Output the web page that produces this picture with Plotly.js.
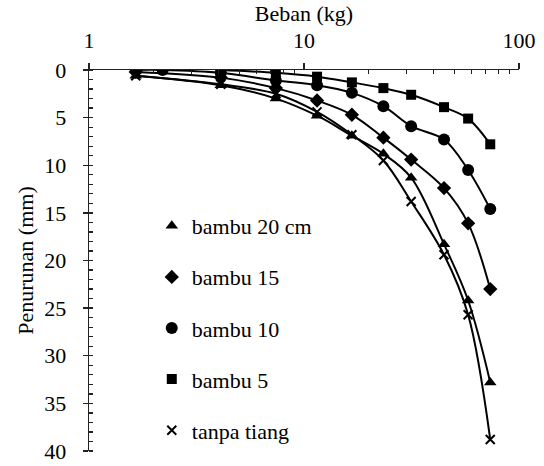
<!DOCTYPE html>
<html>
<head>
<meta charset="utf-8">
<script src="https://cdn.plot.ly/plotly-3.0.1.min.js"></script>
<style>html,body{margin:0;padding:0;background:#fff;}#chart{width:544px;height:466px;}</style>
</head>
<body>
<div id="chart"></div>
<script>
// Load (kg) values
var loadAll = [1.65, 4.1, 7.4, 11.5, 16.7, 23.4, 31.5, 44.8, 58, 73.5];
var loadCircle = [1.65, 2.2, 4.1, 7.4, 11.5, 16.7, 23.4, 31.5, 44.8, 58, 73.5];
var loadSquare = [4.1, 7.4, 11.5, 16.7, 23.4, 31.5, 44.8, 58, 73.5];

// Settlement (mm) values
var bambu20 = [0.6, 1.6, 3.0, 4.8, 6.9, 8.8, 11.3, 18.3, 24.2, 32.8];
var bambu15 = [0.2, 0.8, 1.9, 3.2, 4.7, 7.1, 9.4, 12.4, 16.1, 23.0];
var bambu10 = [0.0, 0.0, 0.3, 1.1, 1.6, 2.4, 3.8, 5.9, 7.3, 10.5, 14.6];
var bambu5 = [0.0, 0.3, 0.7, 1.3, 1.9, 2.6, 3.9, 5.1, 7.8];
var tanpaTiang = [0.6, 1.5, 2.5, 4.4, 6.8, 9.5, 13.8, 19.4, 25.7, 38.8];

var seriesNames = ['bambu 20 cm', 'bambu 15', 'bambu 10', 'bambu 5', 'tanpa tiang'];
var xTickVals = [1, 10, 100];
var xTickText = ['1', '10', '100'];
var xMinorVals = [2,3,4,5,6,7,8,9,20,30,40,50,60,70,80,90];
var yTickVals = [0, 5, 10, 15, 20, 25, 30, 35, 40];

var series = [
  {name: seriesNames[0], x: loadAll, y: bambu20, symbol: 'triangle-up', size: 11},
  {name: seriesNames[1], x: loadAll, y: bambu15, symbol: 'diamond', size: 11},
  {name: seriesNames[2], x: loadCircle, y: bambu10, symbol: 'circle', size: 12},
  {name: seriesNames[3], x: loadSquare, y: bambu5, symbol: 'square', size: 10},
  {name: seriesNames[4], x: loadAll, y: tanpaTiang, symbol: 'x-thin-open', size: 9}
];

function mkFont(sz){ return {family: 'Liberation Serif, Times New Roman, serif', size: sz, color: '#000'}; }

var traces = [];
series.forEach(function(s, i){
  traces.push({
    x: s.x, y: s.y, mode: 'lines', type: 'scatter',
    line: {color: '#000', width: 2, shape: 'spline', smoothing: 1.0},
    showlegend: false, hoverinfo: 'skip'
  });
});
series.forEach(function(s, i){
  traces.push({
    x: s.x, y: s.y, mode: 'markers', type: 'scatter', name: s.name,
    legendgroup: 'g' + i,
    marker: {symbol: s.symbol, size: s.size, color: '#000',
             line: {color: '#000', width: s.symbol === 'x-thin-open' ? 2 : 0}}
  });
});
// invisible traces for the overlay tick axes
traces.push({x: [1], y: [0], xaxis: 'x2', yaxis: 'y', mode: 'markers', marker: {opacity: 0}, showlegend: false, hoverinfo: 'skip'});
traces.push({x: [1], y: [0], xaxis: 'x', yaxis: 'y2', mode: 'markers', marker: {opacity: 0}, showlegend: false, hoverinfo: 'skip'});

var layout = {
  width: 544, height: 466,
  margin: {l: 89, r: 25, t: 70, b: 15},
  paper_bgcolor: '#fff', plot_bgcolor: '#fff',
  font: mkFont(22),
  showlegend: true,
  legend: {x: 0.146, y: 0, xanchor: 'left', yanchor: 'bottom', bgcolor: 'rgba(0,0,0,0)',
           font: mkFont(22), tracegroupgap: 19.5, itemwidth: 30},
  xaxis: {
    type: 'log', side: 'top', range: [0, 2], anchor: 'y',
    tickvals: xTickVals, ticktext: xTickText,
    ticks: 'outside', ticklen: 6, tickwidth: 1.3, tickcolor: '#222',
    showline: true, linecolor: '#222', linewidth: 1.3, showgrid: false, zeroline: false,
    title: {text: 'Beban (kg)', font: mkFont(22), standoff: 0},
    tickfont: mkFont(22), ticklabelstandoff: 6
  },
  xaxis2: {
    type: 'log', side: 'top', range: [0, 2], overlaying: 'x', anchor: 'y',
    tickvals: xMinorVals, ticks: 'inside', ticklen: 4, tickwidth: 1.3, tickcolor: '#222',
    showticklabels: false, showline: false, showgrid: false, zeroline: false
  },
  yaxis: {
    range: [40, 0], tickvals: yTickVals,
    ticks: 'outside', ticklen: 5, tickwidth: 1.3, tickcolor: '#222',
    minor: {dtick: 1, ticks: 'inside', ticklen: 4, tickwidth: 1.3, tickcolor: '#222', showgrid: false},
    showline: true, linecolor: '#222', linewidth: 1.3, showgrid: false, zeroline: false,
    ticklabelstandoff: 12, ticklabeloverflow: 'allow',
    title: {text: 'Penurunan (mm)', font: mkFont(22), standoff: 4},
    tickfont: mkFont(22)
  },
  yaxis2: {
    range: [40, 0], overlaying: 'y', anchor: 'x', side: 'left',
    tickvals: yTickVals, ticks: 'inside', ticklen: 4, tickwidth: 1.3, tickcolor: '#222',
    showticklabels: false, showline: false, showgrid: false, zeroline: false
  }
};

Plotly.newPlot('chart', traces, layout, {staticPlot: true, displayModeBar: false});
</script>
</body>
</html>
